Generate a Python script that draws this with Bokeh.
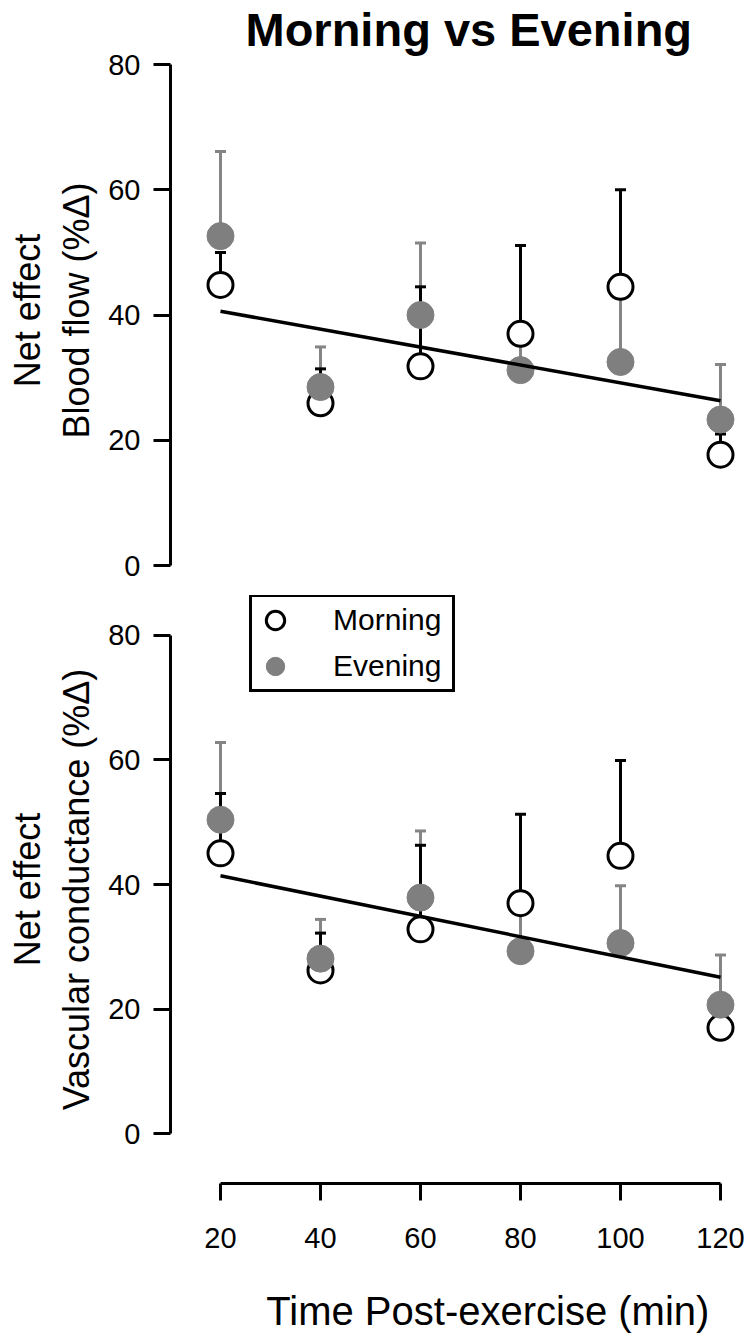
from bokeh.plotting import figure
from bokeh.layouts import column
from bokeh.models import (Range1d, Legend, LegendItem, FixedTicker, ColumnDataSource,
                          Whisker, TeeHead)
from bokeh.embed import file_html
from bokeh.resources import INLINE

# ---------------- data ----------------
times = [20, 40, 60, 80, 100, 120]
x_ticks = [20, 40, 60, 80, 100, 120]
y_ticks = [0, 20, 40, 60, 80]

# Blood flow (top panel)
bf_morning = [44.8, 25.9, 31.8, 37.0, 44.5, 17.7]
bf_morning_upper = [50.0, 31.4, 44.5, 51.1, 60.0, 21.0]
bf_evening = [52.6, 28.5, 40.0, 31.2, 32.5, 23.3]
bf_evening_upper = [66.1, 34.9, 51.5, 36.0, 43.0, 32.1]

# Vascular conductance (bottom panel)
vc_morning = [45.0, 26.2, 32.8, 37.0, 44.6, 17.0]
vc_morning_upper = [54.6, 32.2, 46.3, 51.3, 59.9, 20.0]
vc_evening = [50.4, 28.1, 37.9, 29.3, 30.6, 20.7]
vc_evening_upper = [62.8, 34.4, 48.6, 36.8, 39.8, 28.7]

# regression lines (end points)
fit_x = [20, 120]
bf_fit = [40.6, 26.3]
vc_fit = [41.4, 25.1]

FONT = "Liberation Sans"
GREY = "#7f7f7f"
BAR_GREY = "#858585"

x_range = Range1d(10, 123.6)


def style_y(p, label):
    ax = p.yaxis[0]
    ax.bounds = (0, 80)
    ax.ticker = FixedTicker(ticks=y_ticks)
    ax.axis_line_width = 3
    ax.axis_line_color = "black"
    ax.major_tick_line_width = 3
    ax.major_tick_line_color = "black"
    ax.major_tick_out = 17
    ax.major_tick_in = 0
    ax.minor_tick_line_color = None
    ax.major_label_text_font = FONT
    ax.major_label_text_font_size = "29px"
    ax.major_label_text_color = "black"
    ax.major_label_standoff = 13
    ax.axis_label = label
    ax.axis_label_text_font = FONT
    ax.axis_label_text_font_size = "36px"
    ax.axis_label_text_font_style = "normal"
    ax.axis_label_text_color = "black"
    ax.axis_label_standoff = 8


def panel(p, morning, morning_up, evening, evening_up, fit):
    src = ColumnDataSource(dict(t=times, m=morning, mu=morning_up,
                                e=evening, eu=evening_up))
    ew = Whisker(base="t", lower="e", upper="eu", source=src, dimension="height",
                 line_color=BAR_GREY, line_width=3,
                 upper_head=TeeHead(size=11, line_color=BAR_GREY, line_width=3),
                 lower_head=None)
    mw = Whisker(base="t", lower="m", upper="mu", source=src, dimension="height",
                 line_color="black", line_width=3,
                 upper_head=TeeHead(size=11, line_color="black", line_width=3),
                 lower_head=None)
    p.add_layout(ew)
    p.add_layout(mw)
    rm = p.scatter("t", "m", source=src, size=25, fill_color="white",
                   line_color="black", line_width=3)
    re = p.scatter("t", "e", source=src, size=27, fill_color=GREY,
                   line_color=GREY, line_width=1)
    p.line(fit_x, fit, line_color="black", line_width=3.5)
    return rm, re


def base_fig(**kw):
    p = figure(output_backend="svg", toolbar_location=None, x_range=x_range,
               **kw)
    p.grid.visible = False
    p.outline_line_color = None
    p.background_fill_color = "white"
    p.border_fill_color = "white"
    return p


# ---------------- top panel ----------------
top = base_fig(width=750, height=585, y_range=Range1d(0, 81.44),
               x_axis_location=None,
               min_border_left=170, min_border_right=12,
               min_border_top=55, min_border_bottom=20,
               title="Morning vs Evening")
top.title.text_font = FONT
top.title.text_font_size = "47px"
top.title.text_font_style = "bold"
top.title.text_color = "black"
top.title.align = "left"
top.title.offset = 75
top.title.standoff = 0
style_y(top, "Net effect\nBlood flow (%\u0394)")
panel(top, bf_morning, bf_morning_upper, bf_evening, bf_evening_upper, bf_fit)

# ---------------- bottom panel ----------------
bot = base_fig(width=750, height=750, y_range=Range1d(-8, 86.4),
               min_border_left=170, min_border_right=12,
               min_border_top=10, min_border_bottom=150)
style_y(bot, "Net effect\nVascular conductance (%\u0394)")
xa = bot.xaxis[0]
xa.bounds = (20, 120)
xa.ticker = FixedTicker(ticks=x_ticks)
xa.axis_line_width = 3
xa.axis_line_color = "black"
xa.major_tick_line_width = 3
xa.major_tick_line_color = "black"
xa.major_tick_out = 17
xa.major_tick_in = 0
xa.minor_tick_line_color = None
xa.major_label_text_font = FONT
xa.major_label_text_font_size = "29px"
xa.major_label_text_color = "black"
xa.major_label_standoff = 27
# non-breaking spaces shift the centred label to the right, as in the original
xa.axis_label = "\u00a0" * 6 + "Time Post-exercise (min)"
xa.axis_label_text_font = FONT
xa.axis_label_text_font_size = "40px"
xa.axis_label_text_font_style = "normal"
xa.axis_label_text_color = "black"
xa.axis_label_standoff = 38

rm, re = panel(bot, vc_morning, vc_morning_upper, vc_evening, vc_evening_upper, vc_fit)

legend = Legend(items=[LegendItem(label="Morning", renderers=[rm]),
                       LegendItem(label="Evening", renderers=[re])],
                location=(79, 491), orientation="vertical",
                glyph_width=46, glyph_height=46, spacing=0, padding=0,
                label_standoff=35, label_width=119,
                label_text_font=FONT, label_text_font_size="30px",
                label_text_color="black",
                border_line_color="black", border_line_width=3,
                border_line_alpha=1.0,
                background_fill_color="white", background_fill_alpha=1.0,
                margin=0)
bot.add_layout(legend)

layout = column(top, bot, spacing=0)

open("out.html", "w").write(file_html(layout, INLINE))
